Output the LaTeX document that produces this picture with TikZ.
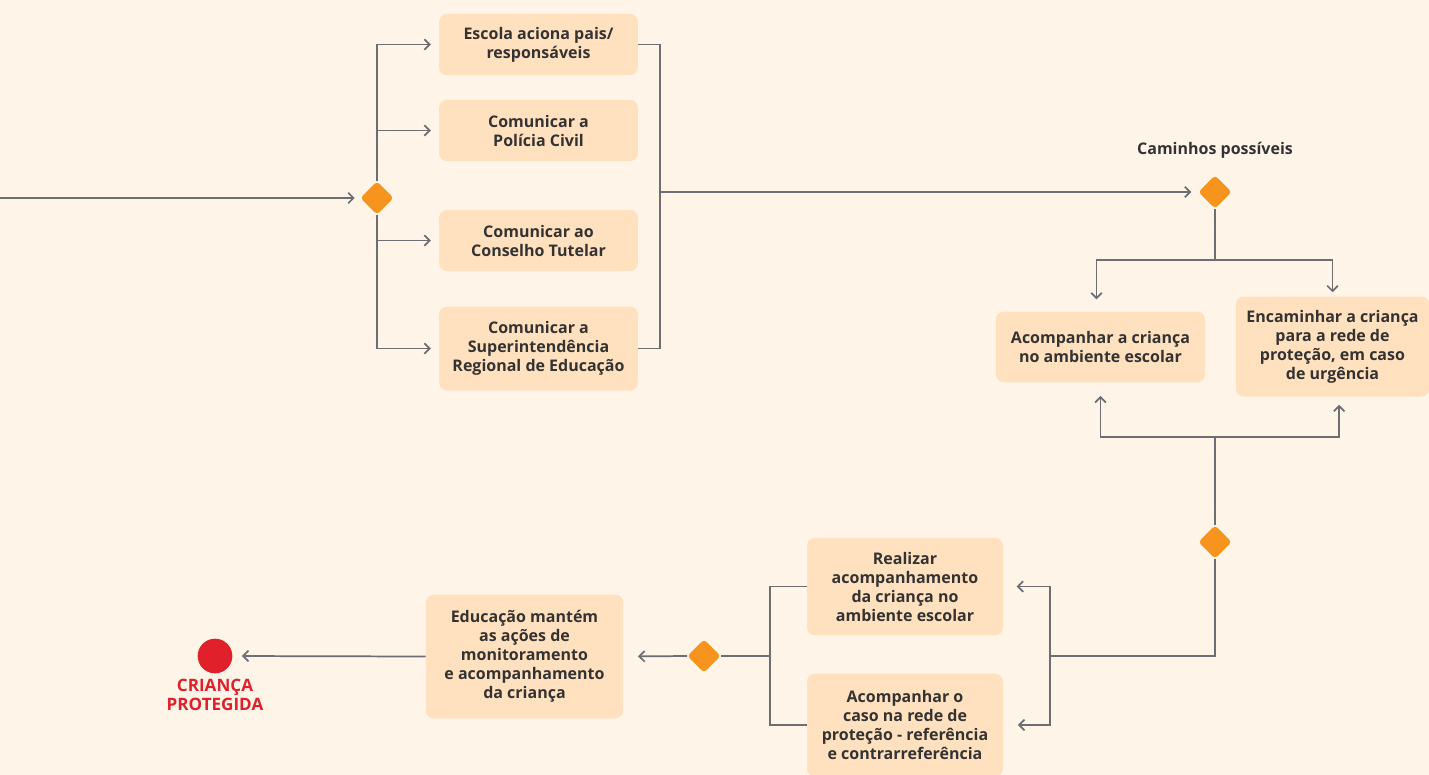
\documentclass[tikz,border=0pt]{standalone}
\usepackage{fontspec}
\setmainfont{Open Sans}
\usepackage{xcolor}
\usetikzlibrary{arrows.meta,shapes.geometric}
\definecolor{bgc}{HTML}{FEF4E8}
\definecolor{boxc}{HTML}{FFE1BF}
\definecolor{orng}{HTML}{F7941D}
\definecolor{linec}{HTML}{6D6E71}
\definecolor{txtc}{HTML}{333333}
\definecolor{redc}{HTML}{E0202B}

\begin{document}
\begin{tikzpicture}[x=0.75pt,y=0.75pt,yscale=-1,xscale=1,
  box/.style={fill=boxc,rounded corners=6pt,align=center,text=txtc,inner sep=0.75pt,
    font=\bfseries\fontsize{12}{14.25}\selectfont},
  dia/.style={diamond,fill=orng,minimum size=25pt,inner sep=0pt,rounded corners=2.5pt},
  link/.style={draw=linec,line width=1.3pt},
  arr/.style={link,-{Straight Barb[length=4pt,width=8pt,line width=1.3pt]}}]
\useasboundingbox (0,0) rectangle (1429,775);
\fill[bgc] (0,0) rectangle (1429,775);
% nodes
\node [box,minimum width=149pt,minimum height=46pt] (esc) at (538.5,44.5) {Escola aciona pais/\\responsáveis};
\node [box,minimum width=149pt,minimum height=46pt] (pol) at (538.5,130.5) {Comunicar a\\Polícia Civil};
\node [box,minimum width=149pt,minimum height=46pt] (cons) at (538.5,240.5) {Comunicar ao\\Conselho Tutelar};
\node [box,minimum width=149pt,minimum height=63pt] (sup) at (538.5,348.5) {Comunicar a\\Superintendência\\Regional de Educação};
\node [box,minimum width=157pt,minimum height=53pt] (acomp) at (1100.5,347) {Acompanhar a criança\\no ambiente escolar};
\node [box,minimum width=145pt,minimum height=75pt] (encam) at (1332.5,346.5) {Encaminhar a criança\\para a rede de\\proteção, em caso\\de urgência};
\node [box,minimum width=147pt,minimum height=73pt] (real) at (905,586.5) {Realizar\\acompanhamento\\da criança no\\ambiente escolar};
\node [box,minimum width=147pt,minimum height=77pt] (rede) at (905,725) {Acompanhar o\\caso na rede de\\proteção - referência\\e contrarreferência};
\node [box,minimum width=148pt,minimum height=93pt] (edu) at (524.5,656.5) {Educação mantém\\as ações de\\monitoramento\\e acompanhamento\\da criança};
\node [text=txtc,font=\bfseries\fontsize{12}{14}\selectfont] (cam) at (1215,150) {Caminhos possíveis};
\node [dia] (d1) at (377,198) {};
\node [dia] (d2) at (1215,192) {};
\node [dia] (d3) at (1215,542) {};
\node [dia] (d4) at (704,656) {};
\node [circle,fill=redc,minimum size=26pt,inner sep=0pt] (goal) at (215,656) {};
\node [text=redc,align=center,font=\bfseries\fontsize{12.8}{14.25}\selectfont] (goaltxt) at (215,694.5) {CRIANÇA\\PROTEGIDA};
\coordinate (start) at (0,198);
\coordinate (col) at (660,192);
\coordinate (split) at (1215,260);
\coordinate (join) at (1215,437);
\coordinate (back) at (1050,656);
\coordinate (merge) at (770,656);
% connectors
\draw [arr,shorten >=4pt] (start) -- (d1.west);
\draw [arr,shorten >=6pt] (d1.north) |- (esc.west);
\draw [arr,shorten >=6pt] (d1.north) |- (pol.west);
\draw [arr,shorten >=6pt] (d1.south) |- (cons.west);
\draw [arr,shorten >=6pt] (d1.south) |- (sup.west);
\draw [link] (esc.east) -| (col) |- (sup.east);
\draw [arr,shorten >=5pt] (col) -- (d2.west);
\draw [link] (d2.south) -- (split);
\draw [arr,shorten >=9pt] (split) -| ([xshift=-3pt]acomp.north);
\draw [arr,shorten >=3pt] (split) -| (encam.north);
\draw [arr,shorten >=10pt] (join) -| (acomp.south);
\draw [arr,shorten >=6pt] (join) -| ([xshift=5pt]encam.south);
\draw [link] (join) -- (d3.north);
\draw [link] (d3.south) |- (back);
\draw [arr,shorten >=10pt] (back) |- (real.east);
\draw [arr,shorten >=11pt] (back) |- (rede.east);
\draw [link] (real.west) -| (merge) |- (rede.west);
\draw [link] (merge) -- (d4.east);
\draw [arr,shorten >=11pt] (d4.west) -- (edu.east);
\draw [arr,shorten >=7pt] (edu.west) -- (goal.east);
\end{tikzpicture}
\end{document}
